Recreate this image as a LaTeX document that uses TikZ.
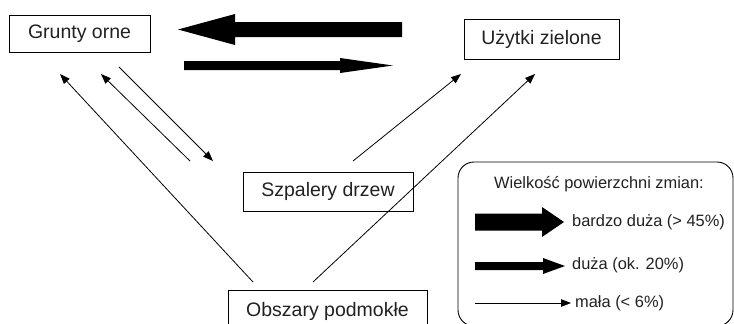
\documentclass[tikz,border=0pt]{standalone}
\usepackage{fontspec}
\setmainfont{Liberation Sans}
\usetikzlibrary{arrows.meta}
\definecolor{txt}{gray}{0.13}
\tikzset{
  box/.style={draw=black, line width=0.9pt, inner sep=0pt, text=txt, font=\fontsize{19.5}{22}\selectfont},
  thin/.style={line width=0.8pt, -{Triangle[length=10pt,width=7.5pt]}},
  fat/.style={fill=black, draw=none},
  legtext/.style={text=txt, font=\fontsize{16.4}{19}\selectfont, inner sep=0pt}
}
\begin{document}
\begin{tikzpicture}[x=1pt,y=-1pt]
\useasboundingbox (0,0) rectangle (734,324);
% boxes
\node[box, minimum width=141pt, minimum height=37pt] (grunty) at (79.5,33.5) {Grunty orne};
\node[box, minimum width=155pt, minimum height=40pt] (uzytki) at (541.5,39) {Użytki zielone};
\node[box, minimum width=170pt, minimum height=39pt] (szpalery) at (328,191.5) {Szpalery drzew};
\node[box, minimum width=199pt, minimum height=42pt] (obszary) at (327.5,311) {Obszary podmokłe};
% thick arrows
\path[fat] (402,22) -- (235,22) -- (235,14) -- (178,29.5) -- (235,45) -- (235,37) -- (402,37) -- cycle;
\path[fat] (184,61) -- (340,61) -- (340,58) -- (393,65.5) -- (340,73) -- (340,70) -- (184,70) -- cycle;
% connector endpoints
\coordinate (o1) at (253,282); \coordinate (g1) at (60,74);
\coordinate (s1) at (190,161); \coordinate (g2) at (101,74);
\coordinate (g3) at (119,67);  \coordinate (s2) at (213,161);
\coordinate (s3) at (353,161); \coordinate (u1) at (461,74);
\coordinate (o2) at (313,282); \coordinate (u2) at (535,74);
\draw[thin] (o1) -- (g1);
\draw[thin] (s1) -- (g2);
\draw[thin] (g3) -- (s2);
\draw[thin] (s3) -- (u1);
\draw[thin] (o2) -- (u2);
% legend
\draw[line width=0.9pt, rounded corners=16pt] (458,162) rectangle (733,326);
\node[legtext] (legtitle) at (599,184) {Wielkość powierzchni zmian:};
\path[fat] (475,213.5) -- (542,213.5) -- (542,207) -- (564,222) -- (542,237) -- (542,230.5) -- (475,230.5) -- cycle;
\node[legtext, anchor=west] (l1) at (572,222) {bardzo duża (> 45\%)};
\path[fat] (475,262) -- (543,262) -- (543,258) -- (565,266) -- (543,274) -- (543,270) -- (475,270) -- cycle;
\node[legtext, anchor=west] (l2) at (572,265) {duża (ok. 20\%)};
\coordinate (m1) at (475,303); \coordinate (m2) at (571,303);
\draw[thin] (m1) -- (m2);
\node[legtext, anchor=west] (l3) at (575,303) {mała (< 6\%)};
\end{tikzpicture}
\end{document}
